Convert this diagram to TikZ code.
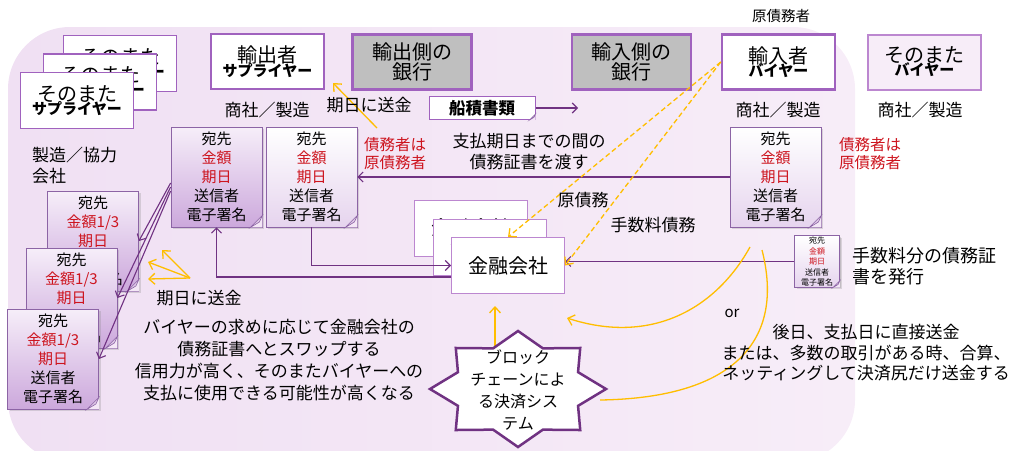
\documentclass[tikz,border=0pt]{standalone}
\usepackage{fontspec}
\setmainfont{Noto Sans CJK JP}
\usetikzlibrary{arrows.meta,shadows}
\definecolor{bgl}{RGB}{240,224,243}
\definecolor{bgr}{RGB}{247,237,248}
\definecolor{bgmid}{RGB}{244,231,246}
\definecolor{boxline}{RGB}{160,98,190}
\definecolor{paleline}{RGB}{188,135,208}
\definecolor{bankgray}{RGB}{191,191,191}
\definecolor{darkline}{RGB}{112,50,130}
\definecolor{docline}{RGB}{140,100,165}
\definecolor{docred}{RGB}{205,20,30}
\definecolor{yel}{RGB}{255,190,0}
\definecolor{docdeep}{RGB}{204,168,220}
\definecolor{docsoft}{RGB}{230,212,238}
\definecolor{docpale}{RGB}{246,238,249}
\definecolor{foldc}{RGB}{222,200,230}

\newcommand{\bigjp}{\fontsize{20}{23}\selectfont}
\newcommand{\subjp}{\bfseries\fontsize{15}{18}\selectfont}
\newcommand{\doctext}[1]{宛先\\\textcolor{docred}{#1}\\\textcolor{docred}{期日}\\送信者\\電子署名}
\newcommand{\fold}[2]{%
  \fill[bgmid] ([xshift=-#2]#1.south east) -- (#1.south east) -- ([yshift=#2]#1.south east) -- cycle;
  \filldraw[draw=docline, fill=foldc, line width=0.6pt]
    ([xshift=-#2]#1.south east) -- ([xshift=-0.25*#2, yshift=0.45*#2]#1.south east) -- ([yshift=#2]#1.south east) -- cycle;}

\tikzset{
  mainbox/.style={draw=boxline, line width=2.5pt, fill=white, minimum width=113pt,
    minimum height=55pt, align=center, inner sep=1pt},
  bankbox/.style={mainbox, fill=bankgray, minimum width=119pt},
  stackbox/.style={draw=boxline, line width=1.5pt, fill=white, minimum width=113pt,
    minimum height=56pt, align=center, inner sep=1pt},
  finbox/.style={draw=paleline, line width=1pt, fill=white, minimum width=113pt,
    minimum height=56pt, font=\fontsize{20}{22}\selectfont},
  docnote/.style={draw=docline, line width=0.8pt, minimum width=91pt, minimum height=100pt,
    align=center, inner sep=1pt, font=\fontsize{15}{19}\selectfont,
    drop shadow={opacity=0.25, shadow xshift=2pt, shadow yshift=-2pt}},
  deepdoc/.style={docnote, top color=docpale, bottom color=docdeep},
  palenote/.style={docnote, top color=white, bottom color=docsoft},
  lbl/.style={font=\fontsize{17}{21}\selectfont, align=center, inner sep=1pt},
  redlbl/.style={font=\fontsize{15.5}{18}\selectfont, text=docred, align=left, inner sep=1pt},
  darkarrow/.style={draw=darkline, line width=1.1pt, -{Straight Barb[length=5pt, width=10pt]}},
  yarrow/.style={draw=yel, line width=1.3pt, -{Straight Barb[length=6pt, width=11pt]}},
  ydash/.style={yarrow, dashed, dash pattern=on 5pt off 3pt},
  yline/.style={draw=yel, line width=1.3pt},
  starline/.style={draw=darkline, line width=2.5pt, fill=white, line join=miter}
}

\begin{document}
\begin{tikzpicture}[x=1pt, y=-1pt]
  \useasboundingbox (0,0) rectangle (1024,450);
  % background
  \shade[left color=bgl, right color=bgr, rounded corners=62pt] (8,27) rectangle (855,462);

  % top row
  \node[stackbox] (sup3) at (120,63.5) {{\bigjp そのまた}\\[-2pt]{\subjp サプライヤー}};
  \node[stackbox] (sup2) at (100,82) {{\bigjp そのまた}\\[-2pt]{\subjp サプライヤー}};
  \node[stackbox] (sup1) at (77,100.5) {{\bigjp そのまた}\\[-2pt]{\subjp サプライヤー}};
  \node[mainbox] (exporter) at (267.5,61.5) {{\bigjp 輸出者}\\[-2pt]{\subjp サプライヤー}};
  \node[bankbox] (expbank) at (412,62) {{\bigjp 輸出側の}\\{\bigjp 銀行}};
  \node[bankbox] (impbank) at (631.5,62) {{\bigjp 輸入側の}\\{\bigjp 銀行}};
  \node[mainbox] (importer) at (778.5,62) {{\bigjp 輸入者}\\[-2pt]{\subjp バイヤー}};
  \node[mainbox, draw=paleline, line width=2pt, fill=bgr] (buyer2) at (924.5,62)
    {{\bigjp そのまた}\\[-2pt]{\subjp バイヤー}};
  \node[font=\fontsize{14.5}{16}\selectfont] (origtop) at (781,16) {原債務者};

  \node[lbl] (trade1) at (267,110) {商社／製造};
  \node[lbl] (trade2) at (778,110) {商社／製造};
  \node[lbl] (trade3) at (920,110) {商社／製造};
  \node[lbl, anchor=west, align=left] (maker) at (31,166) {製造／協力\\会社};

  % documents
  \node[deepdoc] (docA) at (216.5,177) {\doctext{金額}};
  \node[palenote] (docB) at (311.5,177) {\doctext{金額}};
  \node[palenote] (docC) at (775.5,177) {\doctext{金額}};
  \node[palenote, minimum width=45pt, minimum height=50pt, font=\fontsize{8}{10.5}\selectfont,
    drop shadow={opacity=0.25, shadow xshift=1pt, shadow yshift=-1pt}] (docD) at (817,261.5)
    {\doctext{金額}};
  \fold{docA}{12pt}
  \fold{docB}{12pt}
  \fold{docC}{12pt}
  \fold{docD}{7pt}

  \node[deepdoc] (L1) at (93,241) {\doctext{金額1/3}};
  \fold{L1}{12pt}
  \node[deepdoc] (L2) at (71.5,298) {\doctext{金額1/3}};
  \fold{L2}{12pt}
  \node[deepdoc] (L3) at (53,359) {\doctext{金額1/3}};
  \fold{L3}{12pt}

  \draw[darkarrow] ([yshift=-6pt]docA.west) -- (L1.east);
  \draw[darkarrow] ([yshift=-10pt]docA.west) -- (L2.east);
  \draw[darkarrow] ([yshift=-14pt]docA.west) -- (L3.east);

  % bill of lading
  \node[draw=boxline, line width=1pt, fill=white, minimum width=106pt, minimum height=23pt,
    font=\bfseries\fontsize{16.5}{18}\selectfont] (bol) at (482,108) {船積書類};
  \fold{bol}{6pt}
  \coordinate (bolend) at (578,108);
  \draw[darkarrow] (bol.east) -- (bolend);

  % yellow arrow to exporter
  \coordinate (exptip) at (333,83);
  \coordinate (redtop) at (377,128);
  \draw[yarrow] (redtop) -- (exptip);
  \node[lbl] (pay1) at (369,105) {期日に送金};
  \node[redlbl] (red1) at (395,154) {債務者は\\原債務者};
  \node[redlbl] (red2) at (870,154) {債務者は\\原債務者};
  \node[lbl] (handover) at (529,152) {支払期日までの間の\\債務証書を渡す};

  % finance company
  \node[finbox] (fin3) at (471,228) {金融会社};
  \node[finbox] (fin2) at (490,247) {金融会社};
  \node[finbox] (fin1) at (508,265.5) {金融会社};

  \draw[darkarrow] (docC.west) -- (docB.east);
  \draw[darkarrow] (docB.south) |- (fin1.west);
  \draw[darkarrow] ([yshift=-11.5pt]fin1.west) -| (docA.south);
  \draw[darkarrow] (docD.west) -- (docD.west -| fin1.east);

  \draw[ydash] (importer.west) -- (fin1.north);
  \draw[ydash] (importer.west) -- (fin1.east);
  \node[lbl] (origdebt) at (583,200) {原債務};
  \node[lbl] (feedebt) at (653,225) {手数料債務};
  \node[lbl, font=\fontsize{18}{21}\selectfont, anchor=west, align=left] (feetext) at (851,266)
    {手数料分の債務証\\書を発行};

  % due payment to suppliers
  \coordinate (duefrom) at (190,278);
  \coordinate (due1) at (162,250);
  \coordinate (due2) at (148,262);
  \coordinate (due3) at (148,279);
  \draw[yarrow] (duefrom) -- (due1);
  \draw[yarrow] (duefrom) -- (due2);
  \draw[yarrow] (duefrom) -- (due3);
  \node[lbl] (pay2) at (199,298) {期日に送金};

  % curves from buyer
  \coordinate (c1s) at (750,247);
  \coordinate (c1e) at (567,318);
  \coordinate (c2s) at (762,250);
  \coordinate (c2e) at (600,400);
  \draw[yarrow] (c1s) .. controls (715,310) and (650,345) .. (c1e);
  \draw[yline] (c2s) .. controls (785,340) and (735,398) .. (c2e);
  \node[font=\fontsize{15}{17}\selectfont] (ortext) at (732,313) {or};

  % blockchain settlement
  \coordinate (chaintop) at (495,346);
  \coordinate (chainup) at (495,306);
  \draw[yarrow] (chaintop) -- (chainup);
  \draw[starline] (606,389) \foreach \k in {1,...,15}{
      -- ({518+(mod(\k,2)==0 ? 88 : 65)*cos(\k*22.5)}, {389-(mod(\k,2)==0 ? 58 : 44)*sin(\k*22.5)})
    } -- cycle;
  \node[font=\fontsize{16}{22}\selectfont, align=center] (chain) at (518,390)
    {ブロック\\チェーンによ\\る決済シス\\テム};

  \node[lbl, font=\fontsize{17}{22}\selectfont] (swap) at (279,360)
    {バイヤーの求めに応じて金融会社の\\債務証書へとスワップする\\信用力が高く、そのまたバイヤーへの\\支払に使用できる可能性が高くなる};
  \node[lbl, font=\fontsize{17}{20.5}\selectfont] (later) at (866,353)
    {後日、支払日に直接送金\\または、多数の取引がある時、合算、\\ネッティングして決済尻だけ送金する};
\end{tikzpicture}
\end{document}
